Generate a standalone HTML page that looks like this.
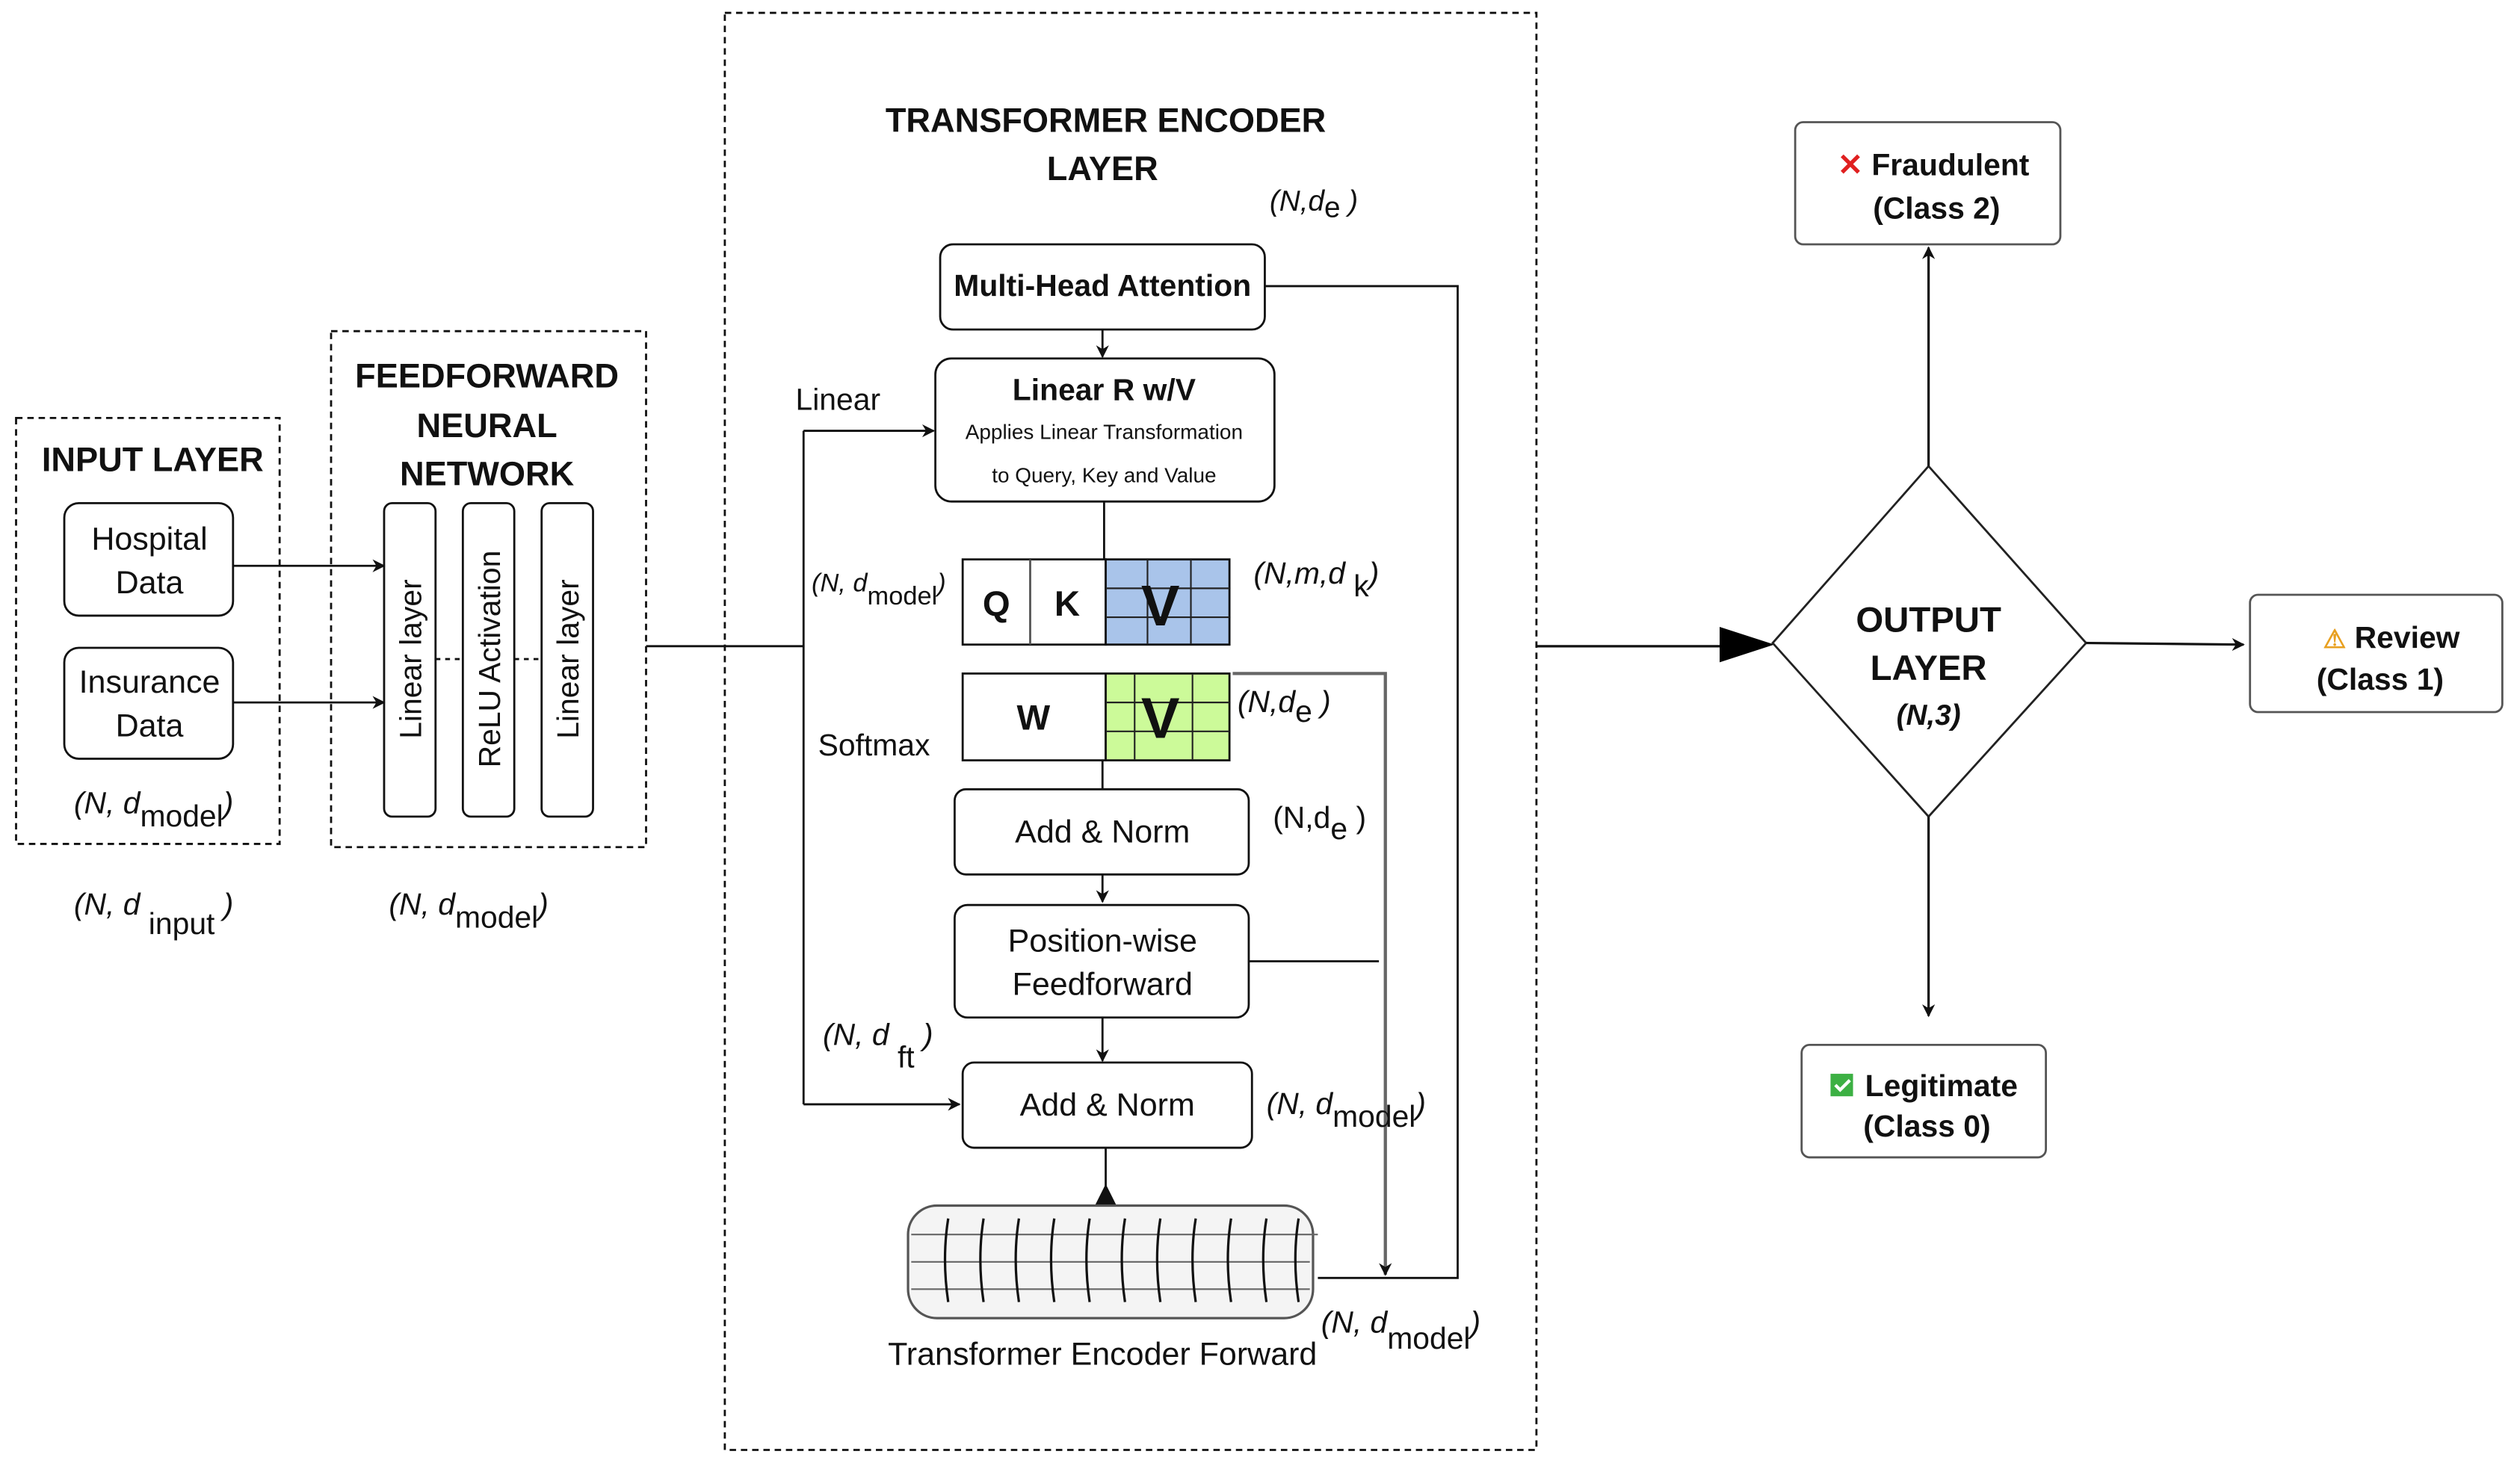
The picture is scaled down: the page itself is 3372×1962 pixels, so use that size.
<!DOCTYPE html>
<html><head><meta charset="utf-8"><style>
html,body{margin:0;padding:0;background:#fff;}
svg{display:block;}
text{font-family:"Liberation Sans",sans-serif;fill:#111;}
.n{font-family:"Liberation Sans Narrow","Liberation Sans",sans-serif;}
</style></head><body>
<svg width="3372" height="1962" viewBox="0 0 1568 912" preserveAspectRatio="none" xmlns="http://www.w3.org/2000/svg">
<defs>
<marker id="a" viewBox="0 0 10 10" refX="9" refY="5" markerWidth="8" markerHeight="8" orient="auto" markerUnits="userSpaceOnUse"><path d="M0,0 L10,5 L0,10 L3,5 z" fill="#111"/></marker>
</defs>
<g fill="none" stroke="#111" stroke-width="1.3">
<rect x="10" y="260" width="164" height="265" stroke-dasharray="4,3"/>
<rect x="206" y="206" width="196" height="321" stroke-dasharray="4,3"/>
<rect x="451" y="8" width="505" height="894" stroke-dasharray="4,3"/>
<rect x="40" y="313" width="105" height="70" rx="9"/>
<rect x="40" y="403" width="105" height="69" rx="9"/>
<rect x="239" y="313" width="32" height="195" rx="5"/>
<rect x="288" y="313" width="32" height="195" rx="5"/>
<rect x="337" y="313" width="32" height="195" rx="5"/>
<line x1="271" y1="410" x2="288" y2="410" stroke-dasharray="3,3"/>
<line x1="320" y1="410" x2="337" y2="410" stroke-dasharray="3,3"/>
<line x1="145" y1="352" x2="239" y2="352" marker-end="url(#a)"/>
<line x1="145" y1="437" x2="239" y2="437" marker-end="url(#a)"/>
<polyline points="402,402 500,402"/>
<line x1="500" y1="268" x2="500" y2="687"/>
<line x1="500" y1="268" x2="581" y2="268" marker-end="url(#a)"/>
<line x1="500" y1="687" x2="597" y2="687" marker-end="url(#a)"/>
<rect x="585" y="152" width="202" height="53" rx="8"/>
<rect x="582" y="223" width="211" height="89" rx="10"/>
<line x1="686" y1="205" x2="686" y2="222" marker-end="url(#a)"/>
<line x1="687" y1="312" x2="687" y2="348"/>
<polyline points="787,178 907,178 907,795 820,795"/>
<rect x="594" y="491" width="183" height="53" rx="7"/>
<rect x="594" y="563" width="183" height="70" rx="8"/>
<rect x="599" y="661" width="180" height="53" rx="7"/>
<line x1="686" y1="473" x2="686" y2="491"/>
<line x1="686" y1="544" x2="686" y2="561" marker-end="url(#a)"/>
<line x1="686" y1="633" x2="686" y2="660" marker-end="url(#a)"/>
<line x1="777" y1="598" x2="858" y2="598"/>
<polyline points="767,419 862,419 862,793" stroke="#666" stroke-width="2" marker-end="url(#a)"/>
<line x1="688" y1="752" x2="688" y2="714"/>
<path d="M682,750 L688,738 L694,750 z" fill="#111"/>
</g>
<rect x="599" y="348" width="89" height="53" fill="#fff" stroke="#111" stroke-width="1.3"/>
<line x1="641" y1="348" x2="641" y2="401" stroke="#555" stroke-width="1.3"/>
<rect x="688" y="348" width="77" height="53" fill="#a9c4ea" stroke="#111" stroke-width="1.3"/>
<g stroke="#222" stroke-width="1"><line x1="688" y1="366" x2="765" y2="366"/><line x1="688" y1="384" x2="765" y2="384"/><line x1="714" y1="348" x2="714" y2="401"/><line x1="741" y1="348" x2="741" y2="401"/></g>
<rect x="599" y="419" width="89" height="54" fill="#fff" stroke="#111" stroke-width="1.3"/>
<rect x="688" y="419" width="77" height="54" fill="#ccfa99" stroke="#111" stroke-width="1.3"/>
<g stroke="#222" stroke-width="1"><line x1="688" y1="437" x2="765" y2="437"/><line x1="688" y1="455" x2="765" y2="455"/><line x1="706" y1="419" x2="706" y2="473"/><line x1="742" y1="419" x2="742" y2="473"/></g>
<rect x="565" y="750" width="252" height="70" rx="18" fill="#f4f4f4" stroke="#555" stroke-width="1.5"/>
<g stroke="#666" stroke-width="1"><line x1="567" y1="768" x2="820" y2="768"/><line x1="567" y1="785" x2="815" y2="785"/><line x1="567" y1="802" x2="815" y2="802"/></g>
<g stroke="#111" stroke-width="1.5" fill="none">
<path d="M590,758 q-4,25 0,52"/><path d="M612,758 q-4,25 0,52"/><path d="M634,758 q-4,25 0,52"/><path d="M656,758 q-4,25 0,52"/><path d="M678,758 q-4,25 0,52"/><path d="M700,758 q-4,25 0,52"/><path d="M722,758 q-4,25 0,52"/><path d="M744,758 q-4,25 0,52"/><path d="M766,758 q-4,25 0,52"/><path d="M788,758 q-4,25 0,52"/><path d="M808,758 q-4,25 0,52"/>
</g>
<line x1="956" y1="402" x2="1075" y2="402" stroke="#111" stroke-width="1.5"/>
<path d="M1070,390 L1104,401 L1070,412 z" fill="#000"/>
<polygon points="1200,290 1298,400 1200,508 1103,400" fill="#fff" stroke="#222" stroke-width="1.3"/>
<g fill="none" stroke="#111" stroke-width="1.5">
<line x1="1200" y1="290" x2="1200" y2="154" marker-end="url(#a)"/>
<line x1="1298" y1="400" x2="1396" y2="401" marker-end="url(#a)"/>
<line x1="1200" y1="508" x2="1200" y2="632" marker-end="url(#a)"/>
</g>
<g fill="#fff" stroke="#555" stroke-width="1.3">
<rect x="1117" y="76" width="165" height="76" rx="5"/>
<rect x="1400" y="370" width="157" height="73" rx="5"/>
<rect x="1121" y="650" width="152" height="70" rx="5"/>
</g>
<g class="n" font-size="21" font-weight="bold" text-anchor="middle">
<text x="95" y="293">INPUT LAYER</text>
<text x="303" y="241">FEEDFORWARD</text>
<text x="303" y="272">NEURAL</text>
<text x="303" y="302">NETWORK</text>
</g>
<g class="n" font-size="20" text-anchor="middle">
<text x="93" y="342">Hospital</text><text x="93" y="369">Data</text>
<text x="93" y="431">Insurance</text><text x="93" y="458">Data</text>
</g>
<g font-size="19" text-anchor="middle">
<text transform="translate(262,410) rotate(-90)">Linear layer</text>
<text transform="translate(311,410) rotate(-90)">ReLU Activation</text>
<text transform="translate(360,410) rotate(-90)">Linear layer</text>
</g>
<g class="n" font-size="19" font-style="italic">
<text x="46" y="506">(N, d<tspan dy="8" font-style="normal">model</tspan><tspan dy="-8">)</tspan></text>
<text x="46" y="569">(N, d <tspan dy="12" font-style="normal">input</tspan><tspan dy="-12"> )</tspan></text>
<text x="242" y="569">(N, d<tspan dy="8" font-style="normal">model</tspan><tspan dy="-8">)</tspan></text>
</g>
<g font-size="21" font-weight="bold" text-anchor="middle">
<text x="688" y="82">TRANSFORMER ENCODER</text>
<text x="686" y="112">LAYER</text>
</g>
<text x="790" y="131" font-size="18" font-style="italic">(N,d<tspan font-style="normal" dy="4">e</tspan><tspan dy="-4"> )</tspan></text>
<text x="686" y="184" font-size="19" font-weight="bold" text-anchor="middle" class="n">Multi-Head Attention</text>
<text x="687" y="249" font-size="19" font-weight="bold" text-anchor="middle" class="n">Linear R w/V</text>
<text x="687" y="273" font-size="13" text-anchor="middle" class="n">Applies Linear Transformation</text>
<text x="687" y="300" font-size="13" text-anchor="middle" class="n">to Query, Key and Value</text>
<text x="495" y="255" font-size="19" class="n">Linear</text>
<text x="509" y="470" font-size="19" class="n">Softmax</text>
<g font-size="22" font-weight="bold" text-anchor="middle">
<text x="620" y="383">Q</text><text x="664" y="383">K</text><text x="643" y="454">W</text>
</g>
<text x="722" y="389" font-size="36" font-weight="bold" text-anchor="middle">V</text>
<text x="722" y="459" font-size="36" font-weight="bold" text-anchor="middle">V</text>
<text x="505" y="368" font-size="16" font-style="italic" class="n">(N, d<tspan dy="8" font-style="normal">model</tspan><tspan dy="-8">)</tspan></text>
<g font-size="19" font-style="italic">
<text x="780" y="363">(N,m,d <tspan dy="8" font-style="normal">k</tspan><tspan dy="-8">)</tspan></text>
<text x="770" y="443">(N,d<tspan dy="6" font-style="normal">e</tspan><tspan dy="-6"> )</tspan></text>
<text x="512" y="650">(N, d <tspan dy="14" font-style="normal">ft</tspan><tspan dy="-14"> )</tspan></text>
<text x="788" y="693">(N, d<tspan dy="8" font-style="normal">model</tspan><tspan dy="-8">)</tspan></text>
<text x="822" y="829">(N, d<tspan dy="10" font-style="normal">model</tspan><tspan dy="-10">)</tspan></text>
</g>
<text x="792" y="515" font-size="19">(N,d<tspan dy="7">e</tspan><tspan dy="-7"> )</tspan></text>
<g class="n" font-size="20" text-anchor="middle">
<text x="686" y="524">Add &amp; Norm</text>
<text x="686" y="592">Position-wise</text>
<text x="686" y="619">Feedforward</text>
<text x="689" y="694">Add &amp; Norm</text>
<text x="686" y="849">Transformer Encoder Forward</text>
</g>
<g font-size="22" font-weight="bold" text-anchor="middle">
<text x="1200" y="393">OUTPUT</text>
<text x="1200" y="423">LAYER</text>
</g>
<text x="1200" y="451" font-size="18" font-weight="bold" font-style="italic" text-anchor="middle">(N,3)</text>
<g font-size="19" font-weight="bold" text-anchor="middle" fill="#222">
<text x="1203" y="109"><tspan fill="#e02020">✕</tspan> Fraudulent</text>
<text x="1205" y="136">(Class 2)</text>
<text x="1488" y="403"><tspan fill="#e8a020" font-size="16">⚠</tspan> Review</text>
<text x="1481" y="429">(Class 1)</text>
<text x="1208" y="682">Legitimate</text>
<text x="1199" y="707">(Class 0)</text>
</g>
<rect x="1139" y="668" width="14" height="14" fill="#3cb043"/>
<path d="M1142,675 l3,3 l6,-6" stroke="#fff" stroke-width="2" fill="none"/>
</svg>
</body></html>
